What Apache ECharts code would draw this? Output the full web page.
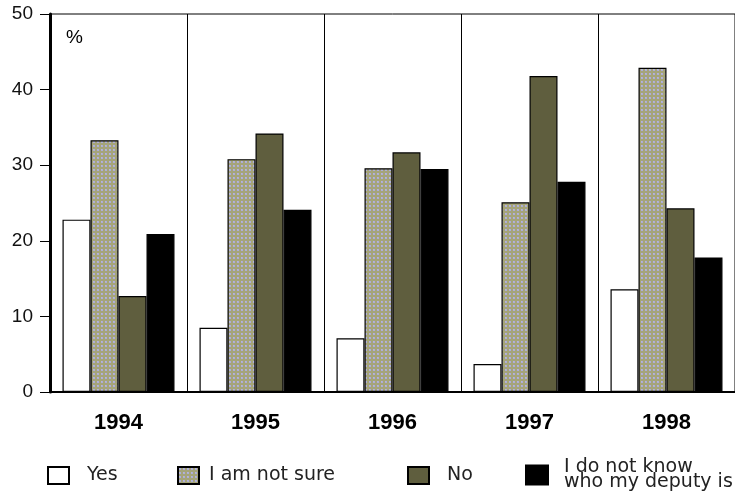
<!DOCTYPE html>
<html>
<head>
<meta charset="utf-8">
<script src="https://cdn.jsdelivr.net/npm/echarts@6/dist/echarts.min.js"></script>
<style>
  html, body { margin: 0; padding: 0; background: #fff; }
  #chart { width: 735px; height: 493px; }
</style>
</head>
<body>
<div id="chart"></div>
<script>
const years = ["1994", "1995", "1996", "1997", "1998"];
const yesVals = [22.8, 8.5, 7.1, 3.7, 13.6];
const notSureVals = [33.3, 30.8, 29.6, 25.1, 42.9];
const noVals = [12.7, 34.2, 31.7, 41.8, 24.3];
const dontKnowVals = [20.9, 24.1, 29.5, 27.8, 17.8];
const seriesNames = ["Yes", "I am not sure", "No", "I do not know\nwho my deputy is"];

// dotted fill for "I am not sure"
const pat = document.createElement("canvas");
pat.width = 4;
pat.height = 4;
const pctx = pat.getContext("2d");
pctx.fillStyle = "#a5a47a";
pctx.fillRect(0, 0, 4, 4);
pctx.fillStyle = "#aeaed8";
pctx.fillRect(1, 1, 2, 2);
pctx.fillStyle = "#b6b6dc";
pctx.fillRect(1, 1, 1, 1);

const chart = echarts.init(document.getElementById("chart"));

const fills = ["#ffffff", { image: pat, repeat: "repeat" }, "#5f5e3e", "#000000"];
const dataSets = [yesVals, notSureVals, noVals, dontKnowVals];

function makeSeries(i) {
  return {
    name: seriesNames[i],
    type: "bar",
    data: dataSets[i],
    barWidth: 28,
    barGap: "0%",
    itemStyle: { color: fills[i], borderColor: "#000", borderWidth: 1.2 },
    emphasis: { disabled: true },
  };
}

// legend placement: [icon left, icon top, gap to text]
const legendSpots = [[47, 467, 13], [177, 467, 5], [407, 467, 13], [525, 466, 11]];

const option = {
  animation: false,
  grid: {
    left: 50, right: 0, top: 14, bottom: 101,
    show: true, borderColor: "#000", borderWidth: 1,
  },
  xAxis: {
    type: "category",
    data: years,
    axisLine: { lineStyle: { color: "#000", width: 2 } },
    axisTick: { show: false },
    splitLine: { show: true, lineStyle: { color: "#000", width: 1 } },
    axisLabel: {
      margin: 20,
      color: "#000",
      fontWeight: "bold",
      fontSize: 22,
      fontFamily: "Liberation Sans, Arial",
    },
  },
  yAxis: {
    type: "value",
    min: 0, max: 50, interval: 10,
    axisLine: { show: true, lineStyle: { color: "#000", width: 3 } },
    axisTick: { show: true, length: 10, lineStyle: { color: "#000", width: 1 } },
    splitLine: { show: false },
    axisLabel: {
      margin: 17,
      color: "#111",
      fontSize: 19,
      fontFamily: "Liberation Sans, Arial",
    },
  },
  legend: seriesNames.map((n, i) => ({
    data: [n],
    left: legendSpots[i][0],
    top: i === 3 ? legendSpots[i][1] - 8 : legendSpots[i][1] - 1,
    padding: 0,
    icon: "rect",
    itemWidth: i === 3 ? 22 : 21,
    itemHeight: i === 3 ? 19 : 17,
    itemGap: 0,
    selectedMode: false,
    textStyle: {
      padding: [0, 0, 0, legendSpots[i][2]],
      fontFamily: "DejaVu Sans",
      fontSize: 19,
      lineHeight: 15,
      color: "#222",
    },
  })),
  graphic: [
    {
      type: "text",
      left: 66, top: 28,
      style: { text: "%", font: "19px Liberation Sans, Arial", fill: "#000" },
    },
  ],
  series: [0, 1, 2, 3].map(makeSeries),
};

chart.setOption(option);
</script>
</body>
</html>
